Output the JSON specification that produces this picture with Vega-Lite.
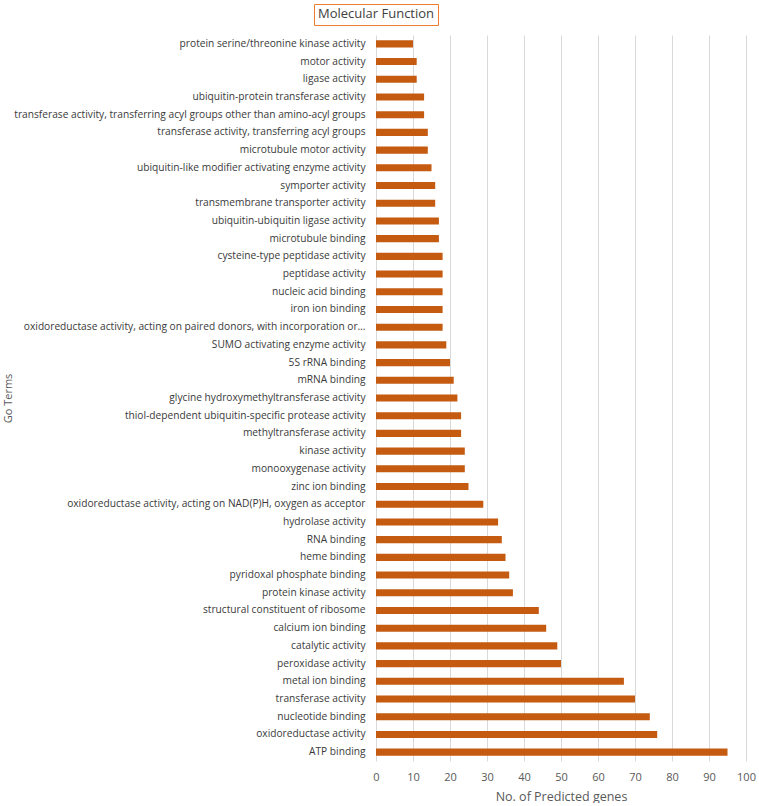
{
  "$schema": "https://vega.github.io/schema/vega-lite/v6.json",
  "padding": {"left": 2, "top": 3, "right": 0, "bottom": 0},
  "width": 370,
  "height": 726,
  "config": {
    "font": "Open Sans",
    "view": {"stroke": null}
  },
  "data": {
    "values": [
      {"term": "protein serine/threonine kinase activity", "genes": 10},
      {"term": "motor activity", "genes": 11},
      {"term": "ligase activity", "genes": 11},
      {"term": "ubiquitin-protein transferase activity", "genes": 13},
      {"term": "transferase activity, transferring acyl groups other than amino-acyl groups", "genes": 13},
      {"term": "transferase activity, transferring acyl groups", "genes": 14},
      {"term": "microtubule motor activity", "genes": 14},
      {"term": "ubiquitin-like modifier activating enzyme activity", "genes": 15},
      {"term": "symporter activity", "genes": 16},
      {"term": "transmembrane transporter activity", "genes": 16},
      {"term": "ubiquitin-ubiquitin ligase activity", "genes": 17},
      {"term": "microtubule binding", "genes": 17},
      {"term": "cysteine-type peptidase activity", "genes": 18},
      {"term": "peptidase activity", "genes": 18},
      {"term": "nucleic acid binding", "genes": 18},
      {"term": "iron ion binding", "genes": 18},
      {"term": "oxidoreductase activity, acting on paired donors, with incorporation or…", "genes": 18},
      {"term": "SUMO activating enzyme activity", "genes": 19},
      {"term": "5S rRNA binding", "genes": 20},
      {"term": "mRNA binding", "genes": 21},
      {"term": "glycine hydroxymethyltransferase activity", "genes": 22},
      {"term": "thiol-dependent ubiquitin-specific protease activity", "genes": 23},
      {"term": "methyltransferase activity", "genes": 23},
      {"term": "kinase activity", "genes": 24},
      {"term": "monooxygenase activity", "genes": 24},
      {"term": "zinc ion binding", "genes": 25},
      {"term": "oxidoreductase activity, acting on NAD(P)H, oxygen as acceptor", "genes": 29},
      {"term": "hydrolase activity", "genes": 33},
      {"term": "RNA binding", "genes": 34},
      {"term": "heme binding", "genes": 35},
      {"term": "pyridoxal phosphate binding", "genes": 36},
      {"term": "protein kinase activity", "genes": 37},
      {"term": "structural constituent of ribosome", "genes": 44},
      {"term": "calcium ion binding", "genes": 46},
      {"term": "catalytic activity", "genes": 49},
      {"term": "peroxidase activity", "genes": 50},
      {"term": "metal ion binding", "genes": 67},
      {"term": "transferase activity", "genes": 70},
      {"term": "nucleotide binding", "genes": 74},
      {"term": "oxidoreductase activity", "genes": 76},
      {"term": "ATP binding", "genes": 95}
    ]
  },
  "mark": {"type": "bar"},
  "encoding": {
    "y": {
      "field": "term",
      "type": "nominal",
      "sort": null,
      "scale": {"paddingInner": 0.6, "paddingOuter": 0.3},
      "title": "Go Terms",
      "axis": {
        "ticks": false,
        "domain": false,
        "labelFontSize": 10.2,
        "labelColor": "#3A3A3A",
        "labelPadding": 11,
        "labelLimit": 400,
        "titleFontSize": 11,
        "titleFontWeight": "normal",
        "titleColor": "#595959",
        "titleX": -368,
        "titleY": 363,
        "titleAngle": -90,
        "titleBaseline": "middle",
        "titleAlign": "center"
      }
    },
    "x": {
      "field": "genes",
      "type": "quantitative",
      "scale": {"domain": [0, 100], "nice": false},
      "title": "No. of Predicted genes",
      "axis": {
        "values": [0, 10, 20, 30, 40, 50, 60, 70, 80, 90, 100],
        "ticks": false,
        "domain": false,
        "labelFlush": false,
        "gridColor": "#D9D9D9",
        "labelFontSize": 11,
        "labelColor": "#595959",
        "labelPadding": 10,
        "titleFontSize": 12.5,
        "titleFontWeight": "normal",
        "titleColor": "#595959",
        "titlePadding": 8
      }
    },
    "color": {
      "datum": "Molecular Function",
      "type": "nominal",
      "scale": {"range": ["#C55A11"]},
      "legend": {
        "title": null,
        "orient": "none",
        "legendX": -62,
        "legendY": -31,
        "strokeColor": "#ED7D31",
        "fillColor": "#FFFFFF",
        "padding": 3.5,
        "symbolOpacity": 0,
        "labelOffset": -12.5,
        "labelFontSize": 13,
        "labelColor": "#404040",
        "labelFont": "Open Sans",
        "labelLimit": 300
      }
    }
  }
}
